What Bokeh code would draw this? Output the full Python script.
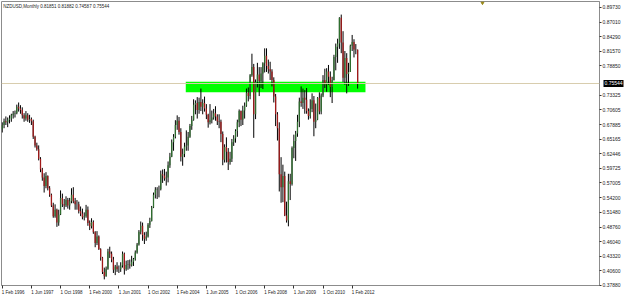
import numpy as np
from bokeh.plotting import figure
from bokeh.models import (Range1d, FixedTicker, Span, Label, ColumnDataSource,
                          PrintfTickFormatter, LinearAxis)
from bokeh.embed import file_html
from bokeh.resources import INLINE

# ---------------- data (NZDUSD monthly, Feb 1996 .. May 2012) ----------------
title_text = "NZDUSD,Monthly  0.81851 0.81882 0.74587 0.75544"
first_open = 0.6700

highs = [
    0.6830, 0.6900, 0.6940, 0.6920, 0.6960, 0.6990, 0.7040, 0.7050, 0.7160, 0.7200, 0.7150,
    0.7110, 0.7000, 0.7040, 0.7000, 0.6970, 0.6920, 0.6880, 0.6580, 0.6450, 0.6400, 0.6180, 0.5980,
    0.5880, 0.5900, 0.5840, 0.5640, 0.5500, 0.5330, 0.5300, 0.5220, 0.5200, 0.5560, 0.5500, 0.5400,
    0.5450, 0.5420, 0.5420, 0.5600, 0.5620, 0.5420, 0.5380, 0.5350, 0.5260, 0.5220, 0.5150, 0.5290,
    0.5260, 0.5000, 0.5040, 0.5000, 0.4800, 0.4800, 0.4720, 0.4480, 0.4320, 0.4120, 0.4140, 0.4470,
    0.4510, 0.4420, 0.4320, 0.4170, 0.4220, 0.4160, 0.4220, 0.4420, 0.4400, 0.4250, 0.4260, 0.4270,
    0.4340, 0.4300, 0.4440, 0.4580, 0.4820, 0.4980, 0.4960, 0.4780, 0.4790, 0.4950, 0.5050, 0.5270,
    0.5520, 0.5620, 0.5620, 0.5650, 0.5930, 0.5950, 0.5960, 0.5910, 0.6100, 0.6260, 0.6510, 0.6610,
    0.6870, 0.6960, 0.6930, 0.6720, 0.6340, 0.6450, 0.6680, 0.6650, 0.6800, 0.6950, 0.7260, 0.7240,
    0.7300, 0.7290, 0.7460, 0.7260, 0.7310, 0.7170, 0.6990, 0.7170, 0.7050, 0.7080, 0.7130, 0.6980,
    0.6980, 0.6880, 0.6660, 0.6420, 0.6550, 0.6350, 0.6280, 0.6520, 0.6590, 0.6700, 0.6880, 0.7070,
    0.7050, 0.7140, 0.7200, 0.7460, 0.7480, 0.7730, 0.8110, 0.7920, 0.7630, 0.7940, 0.7860, 0.7860,
    0.7950, 0.8210, 0.8210, 0.8000, 0.7960, 0.7820, 0.7670, 0.7360, 0.7020, 0.6830, 0.6180, 0.6040,
    0.5910, 0.5350, 0.5870, 0.5870, 0.6380, 0.6600, 0.6670, 0.6970, 0.7290, 0.7500, 0.7460, 0.7430,
    0.7470, 0.7090, 0.7260, 0.7370, 0.7320, 0.7180, 0.7300, 0.7390, 0.7370, 0.7710, 0.7830, 0.7840,
    0.7900, 0.7780, 0.7680, 0.8090, 0.8300, 0.8390, 0.8790, 0.8840, 0.8530, 0.8160, 0.8120, 0.7940,
    0.8280, 0.8460, 0.8380, 0.8290, 0.81882,
]
lows = [
    0.6640, 0.6720, 0.6780, 0.6740, 0.6810, 0.6840, 0.6900, 0.6920, 0.6980, 0.7030, 0.6990,
    0.6900, 0.6840, 0.6860, 0.6840, 0.6820, 0.6780, 0.6520, 0.6360, 0.6300, 0.6120, 0.5900, 0.5740,
    0.5520, 0.5600, 0.5560, 0.5440, 0.5250, 0.5050, 0.5050, 0.4880, 0.4900, 0.5100, 0.5250, 0.5200,
    0.5250, 0.5220, 0.5200, 0.5320, 0.5320, 0.5200, 0.5200, 0.5130, 0.5080, 0.5020, 0.5000, 0.5050,
    0.4900, 0.4820, 0.4850, 0.4750, 0.4500, 0.4540, 0.4450, 0.4250, 0.4000, 0.3900, 0.3950, 0.4080,
    0.4300, 0.4220, 0.4020, 0.3980, 0.4040, 0.4020, 0.4040, 0.4120, 0.3990, 0.4060, 0.4080, 0.4100,
    0.4140, 0.4150, 0.4250, 0.4380, 0.4530, 0.4740, 0.4620, 0.4560, 0.4620, 0.4680, 0.4860, 0.4980,
    0.5230, 0.5410, 0.5400, 0.5430, 0.5560, 0.5700, 0.5740, 0.5650, 0.5710, 0.5980, 0.6180, 0.6300,
    0.6530, 0.6690, 0.6600, 0.6100, 0.6020, 0.6180, 0.6300, 0.6300, 0.6540, 0.6690, 0.6860, 0.6980,
    0.6900, 0.6990, 0.7040, 0.6980, 0.7030, 0.6890, 0.6730, 0.6790, 0.6810, 0.6880, 0.6860, 0.6780,
    0.6720, 0.6460, 0.6030, 0.6080, 0.6080, 0.5940, 0.6040, 0.6090, 0.6390, 0.6450, 0.6560, 0.6740,
    0.6760, 0.6780, 0.6900, 0.7120, 0.7220, 0.7260, 0.7680, 0.6540, 0.6890, 0.7480, 0.7320, 0.7470,
    0.7450, 0.7760, 0.7770, 0.7740, 0.7620, 0.7500, 0.7200, 0.6760, 0.6490, 0.5540, 0.5330, 0.5340,
    0.5080, 0.4960, 0.4890, 0.5380, 0.5650, 0.6160, 0.6110, 0.6560, 0.6740, 0.7120, 0.7080, 0.6990,
    0.6990, 0.6880, 0.6900, 0.7020, 0.6570, 0.6720, 0.6870, 0.6980, 0.6980, 0.7300, 0.7470, 0.7400,
    0.7530, 0.7300, 0.7190, 0.7610, 0.7800, 0.7940, 0.8200, 0.8120, 0.7580, 0.7530, 0.7370, 0.7510,
    0.7770, 0.8160, 0.8040, 0.8100, 0.74587,
]
closes = [
    0.6780, 0.6850, 0.6830, 0.6880, 0.6900, 0.6960, 0.6990, 0.7000, 0.7120, 0.7090, 0.7060,
    0.6960, 0.6900, 0.6960, 0.6880, 0.6890, 0.6850, 0.6560, 0.6400, 0.6330, 0.6150, 0.5950, 0.5800,
    0.5640, 0.5830, 0.5600, 0.5480, 0.5280, 0.5080, 0.5200, 0.4960, 0.5110, 0.5420, 0.5300, 0.5280,
    0.5380, 0.5280, 0.5360, 0.5480, 0.5360, 0.5300, 0.5300, 0.5170, 0.5130, 0.5060, 0.5080, 0.5200,
    0.4950, 0.4890, 0.4970, 0.4780, 0.4580, 0.4700, 0.4460, 0.4310, 0.4040, 0.3960, 0.4100, 0.4420,
    0.4380, 0.4270, 0.4080, 0.4140, 0.4090, 0.4090, 0.4160, 0.4380, 0.4090, 0.4170, 0.4180, 0.4160,
    0.4230, 0.4280, 0.4400, 0.4550, 0.4790, 0.4900, 0.4730, 0.4660, 0.4700, 0.4920, 0.4990, 0.5240,
    0.5480, 0.5570, 0.5580, 0.5580, 0.5860, 0.5840, 0.5780, 0.5800, 0.6030, 0.6190, 0.6460, 0.6560,
    0.6780, 0.6860, 0.6650, 0.6190, 0.6240, 0.6380, 0.6400, 0.6560, 0.6760, 0.6880, 0.7160, 0.7190,
    0.7060, 0.7210, 0.7120, 0.7190, 0.7090, 0.6970, 0.6830, 0.6870, 0.6920, 0.7000, 0.6940, 0.6850,
    0.6840, 0.6610, 0.6130, 0.6370, 0.6280, 0.6090, 0.6150, 0.6460, 0.6530, 0.6670, 0.6830, 0.7040,
    0.6880, 0.7050, 0.7140, 0.7380, 0.7320, 0.7710, 0.7860, 0.6980, 0.7580, 0.7720, 0.7600, 0.7740,
    0.7930, 0.8070, 0.7880, 0.7820, 0.7780, 0.7620, 0.7310, 0.6980, 0.6720, 0.5860, 0.5620, 0.5830,
    0.5090, 0.5000, 0.5730, 0.5680, 0.6350, 0.6480, 0.6620, 0.6840, 0.7220, 0.7190, 0.7290, 0.7250,
    0.7040, 0.6950, 0.7080, 0.7240, 0.6840, 0.6880, 0.7290, 0.7030, 0.7330, 0.7620, 0.7540, 0.7780,
    0.7680, 0.7490, 0.7620, 0.8050, 0.8240, 0.8300, 0.8780, 0.8320, 0.7660, 0.8030, 0.7730, 0.7770,
    0.8260, 0.8330, 0.8190, 0.81851, 0.75544,
]

date_labels = ["1 Feb 1996", "1 Jun 1997", "1 Oct 1998", "1 Feb 2000", "1 Jun 2001",
               "1 Oct 2002", "1 Feb 2004", "1 Jun 2005", "1 Oct 2006", "1 Feb 2008",
               "1 Jun 2009", "1 Oct 2010", "1 Feb 2012"]
date_months = [0, 16, 32, 48, 64, 80, 96, 112, 128, 144, 160, 176, 192]

price_ticks = [0.89730, 0.87010, 0.84290, 0.81570, 0.78850, 0.73325, 0.70605, 0.67885,
               0.65165, 0.62446, 0.59725, 0.57005, 0.54200, 0.51480, 0.48760, 0.46040,
               0.43320, 0.40600, 0.37880]

current_price = 0.75544
zone_months = [100.7, 199.3]
zone_prices = [0.7390, 0.7585]
marker_month = [263.5]
marker_price = [0.9058]

# ---------------- build ----------------
n = len(closes)
idx = np.arange(n)
opens = [first_open] + closes[:-1]
is_up = [c >= o for o, c in zip(opens, closes)]

def subset(flag):
    sel = [i for i in range(n) if is_up[i] == flag]
    return ColumnDataSource(dict(
        x=[idx[i] for i in sel],
        top=[max(opens[i], closes[i]) for i in sel],
        bottom=[min(opens[i], closes[i]) for i in sel],
    ))

FONT = "Liberation Sans"
X0, X1 = -0.4, 327.7
Y0, Y1 = 0.3786, 0.9084

p = figure(width=625, height=297, output_backend="svg", toolbar_location=None,
           x_range=Range1d(X0, X1), y_range=Range1d(Y0, Y1),
           y_axis_location="right", x_axis_location="below",
           min_border_left=1, min_border_right=21, min_border_top=1, min_border_bottom=10)
p.background_fill_color = "white"
p.border_fill_color = "white"
p.outline_line_color = "#8c8c8c"
p.xgrid.visible = False
p.ygrid.visible = False

# green zone
p.quad(left=[zone_months[0]], right=[zone_months[1]], bottom=[zone_prices[0]], top=[zone_prices[1]],
       fill_color="#00ff00", line_color=None)

# bid line
p.add_layout(Span(location=current_price, dimension="width", line_color="#d8cdae", line_width=1))

# candles
p.segment(x0=idx, y0=highs, x1=idx, y1=lows, line_color="black", line_width=1)
p.vbar(x="x", top="top", bottom="bottom", width=0.7, source=subset(True),
       fill_color="#2f6f2f", line_color=None)
p.vbar(x="x", top="top", bottom="bottom", width=0.7, source=subset(False),
       fill_color="#a01818", line_color=None)

# small marker at top
p.scatter(marker_month, marker_price, marker="inverted_triangle", size=3,
          fill_color="#9a8a1c", line_color="#9a8a1c")

# x axis
xa = p.xaxis[0]
xa.ticker = FixedTicker(ticks=[m + 6 for m in date_months], minor_ticks=date_months)
xa.major_label_overrides = {m + 6: lab for m, lab in zip(date_months, date_labels)}
xa.major_tick_out = 0
xa.major_tick_in = 0
xa.minor_tick_out = 3
xa.minor_tick_in = 0
xa.minor_tick_line_color = "#333333"
xa.axis_line_color = "#8c8c8c"
xa.major_label_standoff = 1
xa.major_label_text_font = FONT
xa.major_label_text_font_size = "4.5px"
xa.major_label_text_color = "#222222"

# y axis
ya = p.yaxis[0]
ya.ticker = FixedTicker(ticks=price_ticks)
ya.formatter = PrintfTickFormatter(format="%.5f")
ya.major_tick_out = 2
ya.major_tick_in = 0
ya.minor_tick_out = 0
ya.minor_tick_in = 0
ya.major_tick_line_color = "#333333"
ya.axis_line_color = "#8c8c8c"
ya.major_label_standoff = 1
ya.major_label_text_font = FONT
ya.major_label_text_font_size = "5px"
ya.major_label_text_color = "#222222"

# current price box: a second, zero-width price axis whose single tick is drawn
# as a thick black bar reaching back over the first axis, with a white label on it
price_box = LinearAxis(ticker=FixedTicker(ticks=[current_price]),
                       formatter=PrintfTickFormatter(format="%.5f"),
                       major_tick_in=20, major_tick_out=0,
                       major_tick_line_width=7, major_tick_line_color="black",
                       minor_tick_in=0, minor_tick_out=0,
                       axis_line_color=None,
                       major_label_standoff=-19,
                       major_label_text_font=FONT, major_label_text_font_size="5px",
                       major_label_text_color="white")
p.add_layout(price_box, "right")

# header text
p.add_layout(Label(x=0.6, y=Y1, y_offset=-2, text=title_text, text_font=FONT,
                   text_font_size="4.5px", text_color="#222222", text_baseline="top",
                   text_align="left"))

open("out.html", "w").write(file_html(p, INLINE))
